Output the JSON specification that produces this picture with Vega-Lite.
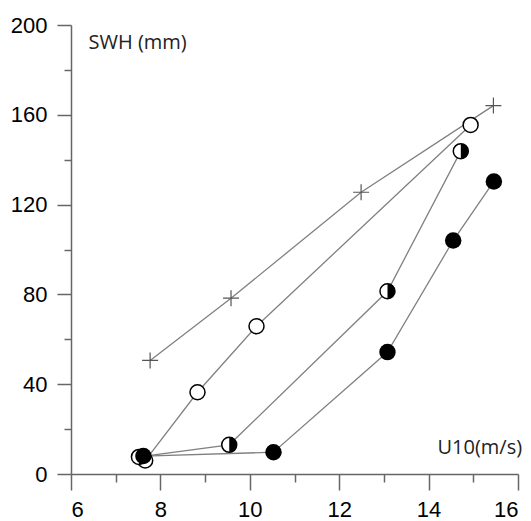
{
  "$schema": "https://vega.github.io/schema/vega-lite/v6.json",
  "width": 447,
  "height": 449,
  "autosize": "none",
  "padding": {"left": 71, "top": 25, "right": 13, "bottom": 47},
  "background": "white",
  "config": {"view": {"stroke": null}},
  "data": {"values": [
    {"s": "plus", "i": 1, "u": 7.77, "h": 50.6},
    {"s": "plus", "i": 2, "u": 9.58, "h": 78.3},
    {"s": "plus", "i": 3, "u": 12.49, "h": 125.5},
    {"s": "plus", "i": 4, "u": 15.45, "h": 164.1},
    {"s": "open", "i": 1, "u": 7.66, "h": 6.0},
    {"s": "open", "i": 2, "u": 8.83, "h": 36.4},
    {"s": "open", "i": 3, "u": 10.15, "h": 65.8},
    {"s": "open", "i": 4, "u": 14.94, "h": 155.5},
    {"s": "half", "i": 1, "u": 7.52, "h": 7.6},
    {"s": "half", "i": 2, "u": 9.54, "h": 13.0},
    {"s": "half", "i": 3, "u": 13.08, "h": 81.4},
    {"s": "half", "i": 4, "u": 14.72, "h": 143.8},
    {"s": "filled", "i": 1, "u": 7.62, "h": 8.0},
    {"s": "filled", "i": 2, "u": 10.53, "h": 9.7},
    {"s": "filled", "i": 3, "u": 13.08, "h": 54.3},
    {"s": "filled", "i": 4, "u": 14.55, "h": 104.0},
    {"s": "filled", "i": 5, "u": 15.46, "h": 130.3}
  ]},
  "encoding": {
    "x": {"field": "u", "type": "quantitative",
      "scale": {"domain": [6, 16], "nice": false, "zero": false},
      "axis": {
        "values": [6, 7, 8, 9, 10, 11, 12, 13, 14, 15, 16],
        "labelExpr": "datum.value % 2 === 0 ? datum.label : ''",
        "grid": false,
        "domainColor": "#666", "domainWidth": 1.5,
        "tickColor": "#666", "tickWidth": 1.5,
        "tickSize": {"condition": {"test": "datum.value % 2 === 0", "value": 16}, "value": 8},
        "labelPadding": 9,
        "labelFont": "Liberation Sans", "labelFontSize": 22, "labelColor": "#000",
        "title": "U10(m/s)", "titleFont": "Open Sans", "titleFontSize": 20, "titleFontWeight": "normal",
        "titleColor": "#222", "titleAngle": 0, "titleAlign": "left", "titleBaseline": "alphabetic",
        "titleX": 366, "titleY": -21
      }},
    "y": {"field": "h", "type": "quantitative",
      "scale": {"domain": [0, 200], "nice": false},
      "axis": {
        "values": [0, 20, 40, 60, 80, 100, 120, 140, 160, 180, 200],
        "labelExpr": "datum.value % 40 === 0 ? datum.label : ''",
        "grid": false,
        "domainColor": "#666", "domainWidth": 1.5,
        "tickColor": "#666", "tickWidth": 1.5,
        "tickSize": {"condition": {"test": "datum.value % 40 === 0", "value": 14}, "value": 7},
        "labelPadding": 10,
        "labelFont": "Liberation Sans", "labelFontSize": 22, "labelColor": "#000",
        "title": "SWH (mm)", "titleFont": "Open Sans", "titleFontSize": 20, "titleFontWeight": "normal",
        "titleColor": "#222", "titleAngle": 0, "titleAlign": "left", "titleBaseline": "alphabetic",
        "titleX": 17, "titleY": 23
      }}
  },
  "layer": [
    {"mark": {"type": "line", "color": "#808080", "strokeWidth": 1.3},
     "encoding": {"detail": {"field": "s"}, "order": {"field": "i", "type": "quantitative"}}},
    {"transform": [{"filter": "datum.s === 'plus'"}],
     "mark": {"type": "point", "shape": "M-1,0H1M0,-1V1", "size": 256, "filled": false, "stroke": "#555", "strokeWidth": 1.2, "opacity": 1}},
    {"transform": [{"filter": "datum.s === 'open'"}],
     "mark": {"type": "point", "shape": "circle", "size": 225, "filled": true, "fill": "white", "stroke": "#000", "strokeWidth": 1.5, "opacity": 1}},
    {"transform": [{"filter": "datum.s === 'half'"}],
     "mark": {"type": "point", "shape": "circle", "size": 225, "filled": true, "fill": "white", "stroke": "#000", "strokeWidth": 1.5, "opacity": 1}},
    {"transform": [{"filter": "datum.s === 'half'"}],
     "mark": {"type": "point", "shape": "M0,-1A1,1,0,0,1,0,1Z", "size": 225, "filled": true, "fill": "#000", "strokeWidth": 0, "opacity": 1}},
    {"transform": [{"filter": "datum.s === 'filled'"}],
     "mark": {"type": "point", "shape": "circle", "size": 272, "filled": true, "fill": "#000", "strokeWidth": 0, "opacity": 1}}
  ]
}
